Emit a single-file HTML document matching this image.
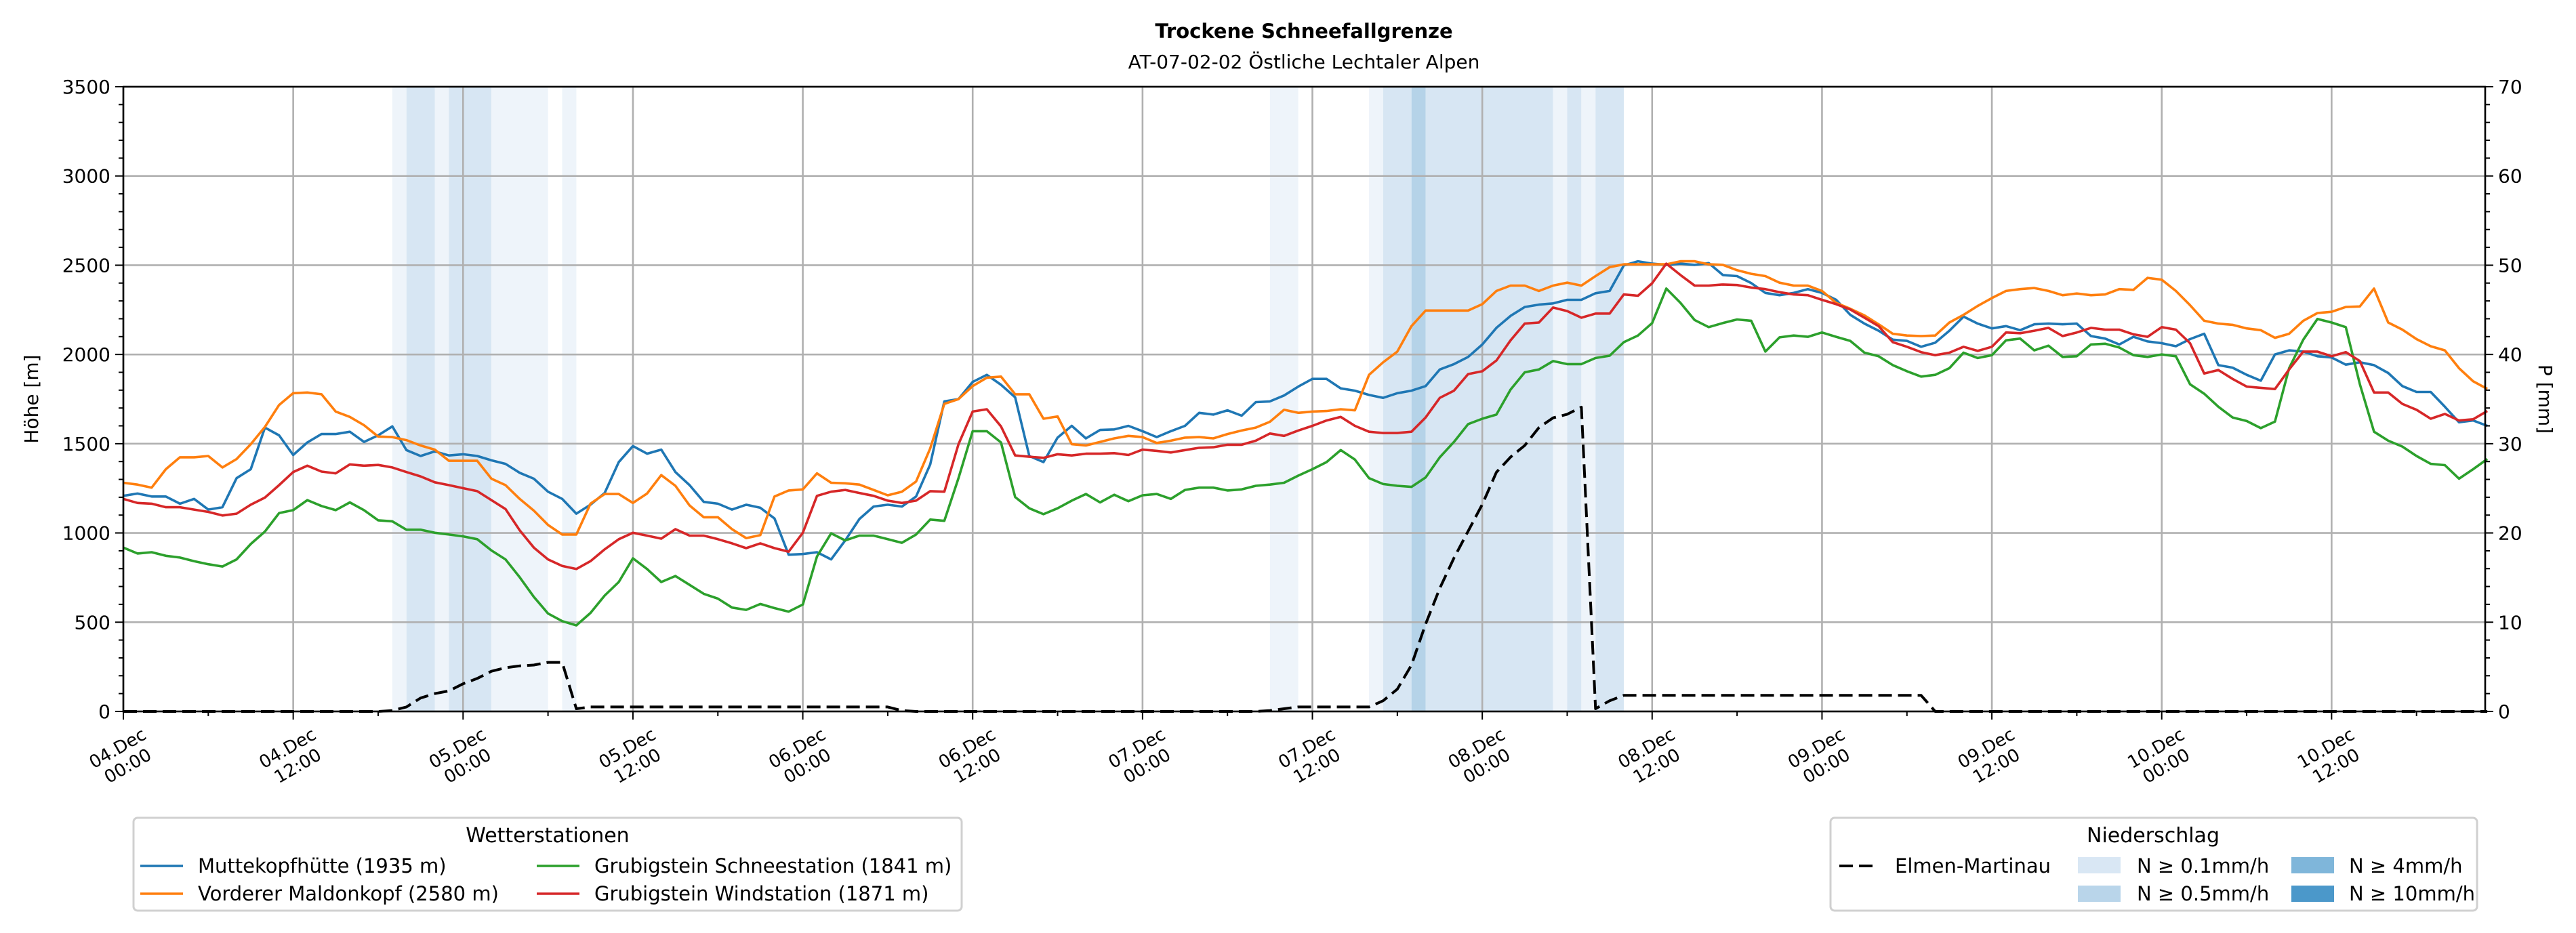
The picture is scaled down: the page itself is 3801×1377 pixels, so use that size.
<!DOCTYPE html>
<html><head><meta charset="utf-8">
<style>
html,body{margin:0;padding:0;background:#fff;}
svg{display:block;font-family:"DejaVu Sans","Liberation Sans",sans-serif;}
</style></head>
<body>
<svg id="chart" width="3801" height="1377" viewBox="0 0 3801 1377" xmlns="http://www.w3.org/2000/svg">
<g id="bands"></g>
<g id="grid"></g>
<g id="series"></g>
<g id="axes"></g>
<text x="1924" y="56" text-anchor="middle" font-size="29" font-weight="bold">Trockene Schneefallgrenze</text>
<text x="1924" y="101" text-anchor="middle" font-size="28">AT-07-02-02 Östliche Lechtaler Alpen</text>
<text transform="translate(56,589) rotate(-90)" text-anchor="middle" font-size="28">Höhe [m]</text>
<text transform="translate(3746,589) rotate(90)" text-anchor="middle" font-size="28">P [mm]</text>

<g>
<rect x="197" y="1207" width="1222" height="137" rx="6" fill="#fff" stroke="#d0d0d0" stroke-width="3"/>
<text x="808" y="1243" text-anchor="middle" font-size="30">Wetterstationen</text>
<g><line x1="207" y1="1278" x2="270" y2="1278" stroke="#1f77b4" stroke-width="3.6"/><text x="292" y="1288" font-size="29">Muttekopfhütte (1935 m)</text></g>
<g><line x1="207" y1="1319" x2="270" y2="1319" stroke="#ff7f0e" stroke-width="3.6"/><text x="292" y="1329" font-size="29">Vorderer Maldonkopf (2580 m)</text></g>
<g><line x1="792" y1="1278" x2="855" y2="1278" stroke="#2ca02c" stroke-width="3.6"/><text x="877" y="1288" font-size="29">Grubigstein Schneestation (1841 m)</text></g>
<g><line x1="792" y1="1319" x2="855" y2="1319" stroke="#d62728" stroke-width="3.6"/><text x="877" y="1329" font-size="29">Grubigstein Windstation (1871 m)</text></g>
</g>

<g>
<rect x="2701" y="1207" width="954" height="137" rx="6" fill="#fff" stroke="#d0d0d0" stroke-width="3"/>
<text x="3177" y="1243" text-anchor="middle" font-size="30">Niederschlag</text>
<g><line x1="2714" y1="1278" x2="2770" y2="1278" stroke="#000" stroke-width="4" stroke-dasharray="20 9"/><text x="2796" y="1288" font-size="29">Elmen-Martinau</text></g>
<g><rect x="3066" y="1265" width="63" height="24" fill="#d9e7f4"/><text x="3153" y="1288" font-size="29">N ≥ 0.1mm/h</text></g>
<g><rect x="3066" y="1307" width="63" height="24" fill="#b9d5ea"/><text x="3153" y="1329" font-size="29">N ≥ 0.5mm/h</text></g>
<g><rect x="3381" y="1265" width="63" height="24" fill="#7fb6da"/><text x="3466" y="1288" font-size="29">N ≥ 4mm/h</text></g>
<g><rect x="3381" y="1307" width="63" height="24" fill="#4b98ca"/><text x="3466" y="1329" font-size="29">N ≥ 10mm/h</text></g>
</g>
</svg>
<script>
// ---- data (hourly, starting 04.Dec 00:00) ----
const muttekopf = [1208,1221,1204,1204,1164,1191,1131,1144,1307,1357,1590,1547,1437,1507,1554,1554,1567,1510,1547,1597,1464,1431,1457,1434,1441,1431,1407,1387,1337,1304,1231,1191,1108,1158,1224,1397,1487,1444,1467,1341,1268,1174,1164,1131,1158,1141,1081,878,882,892,852,958,1078,1148,
1158,1148,1204,1384,1737,1750,1846,1886,1830,1760,1431,1397,1534,1600,1530,1577,1580,1600,1570,1537,1570,1600,1673,1663,1687,1657,1733,1737,1770,1820,1863,1863,1810,1797,1773,1757,1783,1797,1823,1916,1946,1986,2056,2149,2216,2266,2279,2286,2306,2306,2343,2356,2499,2522,2509,2502,2509,2502,2512,2445,2439,2400,
2345,2332,2345,2366,2345,2306,2222,2173,2133,2083,2076,2043,2066,2133,2212,2173,2146,2159,2136,2169,2173,2169,2173,2103,2089,2056,2099,2073,2063,2046,2086,2116,1940,1926,1886,1853,2000,2023,2016,1990,1983,1943,1956,1940,1896,1823,1790,1790,1707,1620,1630,1600];
const maldonkopf = [1281,1271,1254,1357,1424,1424,1431,1367,1414,1497,1594,1717,1783,1787,1777,1680,1650,1604,1540,1537,1520,1490,1467,1404,1404,1404,1304,1268,1191,1125,1045,991,991,1164,1218,1218,1168,1221,1324,1264,1154,1088,1088,1021,971,988,1204,1238,1244,1334,1281,1278,1271,1241,
1211,1231,1288,1474,1723,1750,1823,1870,1876,1777,1777,1640,1653,1497,1490,1510,1530,1544,1537,1504,1517,1534,1537,1530,1554,1574,1590,1623,1690,1673,1680,1683,1693,1687,1886,1956,2016,2159,2246,2246,2246,2246,2282,2356,2386,2386,2356,2386,2402,2386,2439,2489,2505,2505,2505,2505,2522,2522,2505,2502,2472,2452,
2439,2402,2386,2386,2356,2289,2256,2219,2169,2116,2106,2103,2106,2179,2222,2272,2316,2356,2366,2372,2356,2332,2342,2332,2336,2366,2362,2429,2419,2356,2276,2189,2173,2166,2146,2136,2093,2116,2189,2232,2239,2266,2269,2369,2179,2139,2086,2046,2023,1923,1850,1807];
const grubigSchnee = [918,885,892,872,862,842,825,812,852,938,1008,1111,1128,1184,1151,1128,1171,1128,1071,1065,1018,1018,1001,991,981,965,902,852,752,642,549,506,482,552,649,725,858,798,725,759,709,659,632,582,569,602,579,559,599,868,998,958,985,985,
965,945,991,1075,1068,1307,1570,1570,1507,1201,1138,1105,1138,1181,1218,1171,1214,1178,1211,1218,1191,1241,1254,1254,1238,1244,1264,1271,1281,1321,1357,1397,1464,1411,1307,1274,1264,1258,1311,1424,1510,1610,1640,1663,1803,1900,1916,1963,1946,1946,1980,1993,2069,2106,2176,2369,2289,2193,2153,2176,2196,2189,
2016,2096,2106,2099,2123,2099,2076,2010,1990,1940,1906,1876,1886,1923,2010,1980,1996,2079,2089,2023,2049,1986,1990,2056,2060,2039,1996,1986,2000,1990,1833,1780,1707,1647,1627,1587,1624,1923,2083,2199,2179,2153,1833,1567,1517,1484,1431,1387,1380,1304,1357,1414];
const grubigWind = [1191,1168,1164,1144,1144,1131,1118,1098,1108,1158,1198,1268,1341,1377,1344,1334,1384,1377,1381,1367,1341,1317,1284,1268,1251,1234,1184,1134,1015,918,852,815,798,842,908,965,1001,985,968,1021,985,985,965,942,915,942,915,895,1001,1208,1231,1241,1224,1208,
1181,1168,1181,1234,1231,1497,1680,1693,1597,1434,1427,1421,1441,1434,1444,1444,1447,1437,1467,1460,1451,1464,1477,1480,1494,1494,1517,1557,1544,1574,1600,1630,1650,1600,1567,1560,1560,1567,1647,1757,1797,1890,1906,1966,2079,2173,2179,2263,2243,2206,2229,2229,2336,2329,2399,2509,2445,2386,2386,2392,2389,2375,
2366,2349,2336,2332,2306,2282,2252,2206,2159,2069,2043,2013,1996,2010,2043,2020,2043,2123,2119,2133,2149,2103,2123,2149,2139,2139,2113,2099,2153,2139,2063,1893,1913,1863,1820,1813,1806,1916,2016,2016,1990,2013,1963,1787,1787,1723,1690,1640,1667,1630,1637,1683];
const precipElmen = [0,0,0,0,0,0,0,0,0,0,0,0,0,0,0,0,0,0,0,0.1,0.5,1.5,2.0,2.3,3.1,3.7,4.5,4.9,5.1,5.2,5.5,5.5,0.3,
0.5,0.5,0.5,0.5,0.5,0.5,0.5,0.5,0.5,0.5,0.5,0.5,0.5,0.5,0.5,0.5,0.5,0.5,0.5,0.5,0.5,0.5,
0.1,0,0,0,0,0,0,0,0,0,0,0,0,0,0,0,0,0,0,0,0,0,0,0,0,0,0.1,0.3,0.5,0.5,0.5,0.5,0.5,0.5,
1.2,2.5,5.2,9.8,13.8,17.2,20.2,23.2,26.8,28.5,29.8,31.8,32.9,33.3,34.1,0.3,1.2,
1.8,1.8,1.8,1.8,1.8,1.8,1.8,1.8,1.8,1.8,1.8,1.8,1.8,1.8,1.8,1.8,1.8,1.8,1.8,1.8,1.8,1.8,
0,0,0,0,0,0,0,0,0,0,0,0,0,0,0,0,0,0,0,0,0,0,0,0,0,0,0,0,0,0,0,0,0,0,0,0,0,0,0,0];
// precipitation intensity bands: [startHour, endHour, class]
const precipBandStart = [19,20,22,23,26,31,81,88,89,91,92,101,102,103,104];
const precipBandEnd   = [20,22,23,26,30,32,83,89,91,92,101,102,103,104,106];
const precipBandClass = [1,2,1,2,1,1,1,1,2,3,2,1,2,1,2];
const yTicks = [0,500,1000,1500,2000,2500,3000,3500];
const y2Ticks = [0,10,20,30,40,50,60,70];
const xTickDays = ["04.Dec","04.Dec","05.Dec","05.Dec","06.Dec","06.Dec","07.Dec","07.Dec","08.Dec","08.Dec","09.Dec","09.Dec","10.Dec","10.Dec"];
const xTickTimes = ["00:00","12:00","00:00","12:00","00:00","12:00","00:00","12:00","00:00","12:00","00:00","12:00","00:00","12:00"];

// ---- axes functions ----
const L=182,R=3667,T=128,B=1050,HMAX=166.85;
const xS=h=>L+h*(R-L)/HMAX;
const yS=v=>B-v/3500*(B-T);
const y2S=p=>B-p/70*(B-T);
const NS="http://www.w3.org/2000/svg";
function mk(tag,attrs,parent){const e=document.createElementNS(NS,tag);for(const k in attrs)e.setAttribute(k,attrs[k]);parent.appendChild(e);return e;}
const bands=document.getElementById('bands'),grid=document.getElementById('grid'),series=document.getElementById('series'),axes=document.getElementById('axes');
const bandColors={1:'#eef4fa',2:'#d7e6f3',3:'#b5d3e8'};
precipBandStart.forEach((s,i)=>{
  const r=mk('rect',{x:xS(s),y:T,width:xS(precipBandEnd[i])-xS(s),height:B-T,fill:bandColors[precipBandClass[i]]},bands);
  
  
});
// grid
yTicks.forEach(v=>{const l=mk('line',{x1:L,x2:R,y1:yS(v),y2:yS(v),stroke:'#b0b0b0','stroke-width':2.6},grid);
  
  });
xTickDays.forEach((d,i)=>{const x=xS(i*12);const l=mk('line',{x1:x,x2:x,y1:T,y2:B,stroke:'#b0b0b0','stroke-width':2.6},grid);
  
  });
// series
function line(arr,scale,color,name,dash){
  const pts=arr.map((v,i)=>xS(i).toFixed(1)+','+scale(v).toFixed(1)).join(' ');
  const p=mk('polyline',{points:pts,fill:'none',stroke:color,'stroke-width':dash?4:3.6,'stroke-linejoin':'round'},series);
  if(dash)p.setAttribute('stroke-dasharray','20 9');
  
  
}
line(muttekopf,yS,'#1f77b4','line-muttekopf');
line(maldonkopf,yS,'#ff7f0e','line-maldonkopf');
line(grubigSchnee,yS,'#2ca02c','line-grubigstein-schnee');
line(grubigWind,yS,'#d62728','line-grubigstein-wind');
line(precipElmen,y2S,'#000','line-elmen-precip',true);
// frame
const fr=mk('rect',{x:L,y:T,width:R-L,height:B-T,fill:'none',stroke:'#000','stroke-width':2.6},axes);


// left ticks
for(let v=0;v<=3500;v+=100){const major=v%500===0;mk('line',{x1:L-(major?12:7),x2:L,y1:yS(v),y2:yS(v),stroke:'#000','stroke-width':2},axes);}
yTicks.forEach(v=>{const t=mk('text',{x:L-19,y:yS(v)+10,'text-anchor':'end','font-size':28},axes);t.textContent=v;
  
  });
// right ticks
for(let p=0;p<=70;p+=2){const major=p%10===0;mk('line',{x1:R,x2:R+(major?12:7),y1:y2S(p),y2:y2S(p),stroke:'#000','stroke-width':2},axes);}
y2Ticks.forEach(p=>{const t=mk('text',{x:R+19,y:y2S(p)+10,'text-anchor':'start','font-size':28},axes);t.textContent=p;
  
  });
// x ticks
for(let h=0;h<=HMAX;h+=6){const major=h%12===0;mk('line',{x1:xS(h),x2:xS(h),y1:B,y2:B+(major?12:7),stroke:'#000','stroke-width':2},axes);}
xTickDays.forEach((d,i)=>{
  const x=xS(i*12)-4,y=1112;
  const g=mk('g',{transform:`translate(${x},${y}) rotate(-30)`},axes);
  
  
  const t1=mk('text',{x:0,y:0,'text-anchor':'middle','font-size':26},g);t1.textContent=d;
  const t2=mk('text',{x:0,y:30,'text-anchor':'middle','font-size':26},g);t2.textContent=xTickTimes[i];
});
</script>
</body></html>
